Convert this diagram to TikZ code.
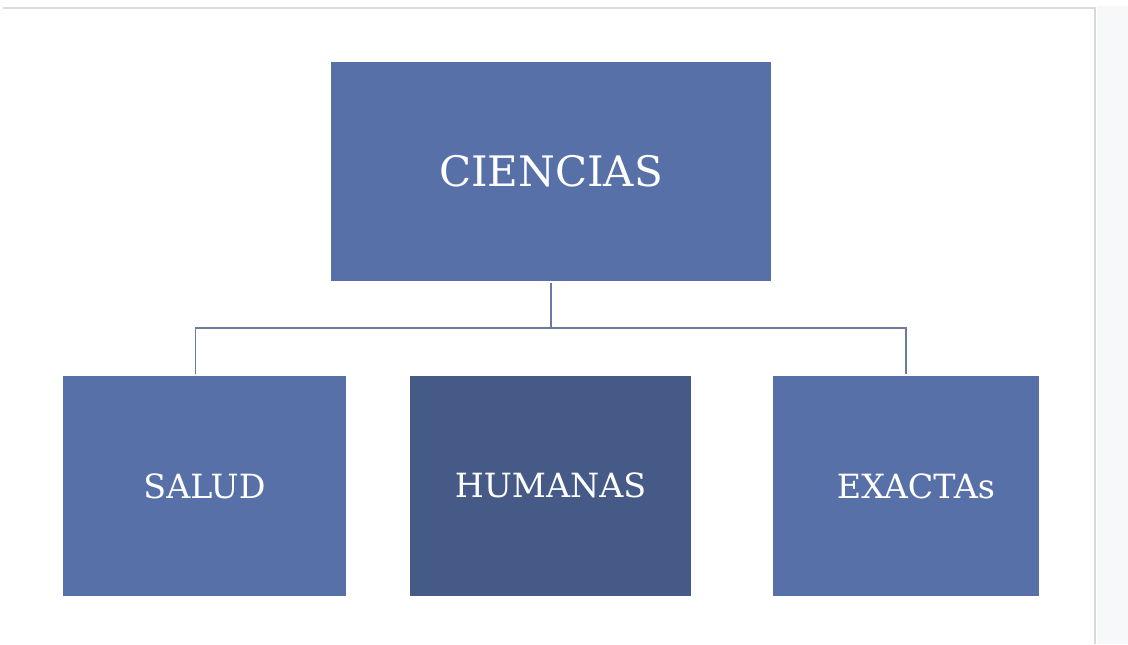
\documentclass[tikz,border=0pt]{standalone}
\usepackage{fontspec}
\setmainfont{DejaVu Serif}
\usepackage{xcolor}
\usetikzlibrary{positioning}

\definecolor{areablue}{HTML}{5870A8}
\definecolor{areadark}{HTML}{465A87}
\definecolor{linkgray}{HTML}{6B7AA1}
\definecolor{pagegray}{HTML}{F7F8FA}
\definecolor{edgegray}{HTML}{DADADA}

\begin{document}
\begin{tikzpicture}[x=0.75pt, y=-0.75pt,
    area/.style={rectangle, fill=areablue, text=white, inner sep=0pt,
                 minimum width=212pt, minimum height=165pt, font=\fontsize{25}{30}\selectfont},
    conn/.style={draw=linkgray, line width=1pt}]
    % page and margins
    \useasboundingbox (0,0) rectangle (1128,644);
    \fill[white] (0,0) rectangle (1128,644);
    \fill[pagegray] (1097,6) rectangle (1128,644);
    \draw[edgegray, line width=1.2pt] (3,8) -- (1095,8) -- (1095,644);

    \node[area, minimum width=330pt, minimum height=164pt, font=\fontsize{31.5}{36}\selectfont] (ciencias) at (551,171.5) {CIENCIAS};
    \node[area, minimum width=212pt] (salud) at (204.5,486) {SALUD};
    \node[area, fill=areadark, minimum width=211pt] (humanas) at (550.5,485.5) {HUMANAS};
    \node[area, minimum width=200pt] (exactas) at (906,486) {\hspace*{15pt}EXACTAs};

    \coordinate (bus) at (551,328);
    \draw[conn] ([yshift=-1.5pt]ciencias.south) -- (bus);
    \draw[conn] (bus) -| ([xshift=-7pt, yshift=1.5pt]salud.north);
    \draw[conn] (bus) -| ([yshift=1.5pt]exactas.north);
\end{tikzpicture}
\end{document}
